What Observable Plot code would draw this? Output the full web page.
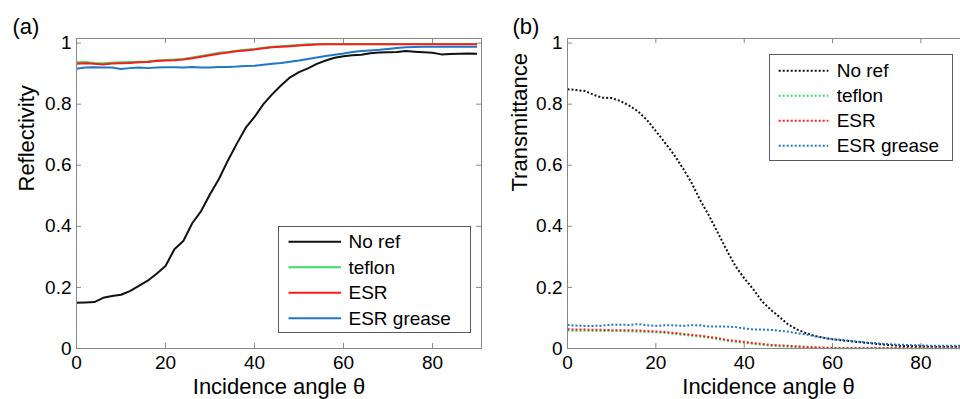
<!DOCTYPE html>
<html><head><meta charset="utf-8">
<script src="https://cdn.jsdelivr.net/npm/d3@7"></script>
<script src="https://cdn.jsdelivr.net/npm/@observablehq/plot@0.6"></script>
<style>
html,body{margin:0;padding:0;background:#fff;}
#wrap{position:relative;width:960px;height:399px;overflow:hidden;font-family:"Liberation Sans",Arial,sans-serif;}
.panel{position:absolute;top:0;}
.legend{position:absolute;background:#fff;border:1px solid #5a5a5a;box-sizing:border-box;}
</style></head><body><div id="wrap"></div>
<script>
// ---- data ----
const angles = [0,2,4,6,8,10,12,14,16,18,20,22,24,26,28,30,32,34,36,38,40,42,44,46,48,50,52,54,56,58,60,62,64,66,68,70,72,74,76,78,80,82,84,86,88,90];
const seriesNames = ["No ref", "teflon", "ESR", "ESR grease"];
const seriesColors = ["#111111", "#33dd66", "#ff1a1a", "#1f77c8"];
const xTicks = [0, 20, 40, 60, 80];
const yTicks = [0, 0.2, 0.4, 0.6, 0.8, 1];

// (a) Reflectivity
const reflNoRef = [0.150,0.151,0.152,0.166,0.172,0.176,0.188,0.205,0.222,0.245,0.270,0.325,0.352,0.410,0.450,0.505,0.555,0.615,0.670,0.722,0.758,0.800,0.833,0.862,0.888,0.905,0.917,0.932,0.943,0.952,0.957,0.960,0.962,0.967,0.969,0.970,0.971,0.974,0.972,0.970,0.968,0.963,0.964,0.965,0.966,0.965];
const reflTeflon = [0.937,0.938,0.935,0.934,0.936,0.937,0.938,0.939,0.940,0.943,0.945,0.946,0.948,0.953,0.958,0.963,0.968,0.971,0.975,0.978,0.981,0.985,0.988,0.990,0.992,0.994,0.996,0.997,0.997,0.997,0.997,0.997,0.997,0.997,0.997,0.997,0.997,0.997,0.997,0.997,0.997,0.997,0.997,0.997,0.997,0.997];
const reflESR = [0.932,0.934,0.932,0.930,0.933,0.934,0.935,0.937,0.938,0.941,0.943,0.944,0.946,0.950,0.955,0.960,0.965,0.969,0.973,0.976,0.979,0.983,0.986,0.988,0.990,0.992,0.994,0.995,0.996,0.996,0.996,0.996,0.996,0.996,0.996,0.996,0.996,0.996,0.996,0.996,0.996,0.996,0.996,0.996,0.996,0.996];
const reflGrease = [0.916,0.920,0.921,0.920,0.920,0.915,0.918,0.920,0.918,0.920,0.921,0.921,0.920,0.922,0.920,0.920,0.922,0.922,0.923,0.925,0.926,0.929,0.932,0.935,0.939,0.943,0.948,0.953,0.958,0.962,0.966,0.971,0.974,0.976,0.978,0.981,0.984,0.986,0.987,0.988,0.988,0.988,0.988,0.988,0.988,0.988];

// (b) Transmittance
const transNoRef = [0.849,0.846,0.843,0.830,0.821,0.820,0.810,0.795,0.776,0.748,0.712,0.675,0.637,0.593,0.545,0.487,0.436,0.380,0.323,0.270,0.230,0.195,0.155,0.127,0.103,0.078,0.062,0.050,0.041,0.035,0.030,0.027,0.024,0.021,0.018,0.015,0.012,0.010,0.008,0.008,0.007,0.006,0.006,0.006,0.006,0.006];
const transTeflon = [0.059,0.058,0.058,0.058,0.057,0.057,0.057,0.056,0.055,0.054,0.053,0.051,0.048,0.045,0.042,0.039,0.035,0.031,0.026,0.022,0.019,0.015,0.012,0.009,0.007,0.006,0.004,0.003,0.002,0.001,0.001,0.001,0.001,0.001,0.001,0.001,0.001,0.001,0.001,0.001,0.001,0.001,0.001,0.001,0.001,0.001];
const transESR = [0.063,0.062,0.062,0.061,0.061,0.060,0.060,0.060,0.059,0.057,0.056,0.054,0.051,0.048,0.045,0.042,0.038,0.034,0.028,0.025,0.022,0.018,0.015,0.012,0.010,0.009,0.007,0.005,0.004,0.003,0.002,0.002,0.002,0.002,0.002,0.002,0.002,0.002,0.002,0.002,0.002,0.002,0.002,0.002,0.002,0.002];
const transGrease = [0.077,0.075,0.074,0.074,0.075,0.078,0.078,0.077,0.080,0.076,0.074,0.076,0.076,0.074,0.076,0.076,0.072,0.072,0.072,0.070,0.066,0.062,0.062,0.061,0.058,0.055,0.050,0.046,0.040,0.035,0.031,0.028,0.025,0.022,0.019,0.017,0.015,0.013,0.012,0.011,0.010,0.009,0.009,0.009,0.009,0.009];

const FONT = '"Liberation Sans", Arial, sans-serif';
const GRAY = "#888";

function panel(o) {
  const W = 490, H = 399, mt = 38, mb = 51;
  const xDom = [0, 91], yDom = [0, 1.015];
  const plotW = W - o.ml - o.mr, plotH = H - mt - mb;
  const tx = 5 * (xDom[1] - xDom[0]) / plotW;
  const ty = 5 * (yDom[1] - yDom[0]) / plotH;
  const rows = [];
  seriesNames.forEach((name, i) => o.values[i].forEach((v, j) => rows.push({name, angle: angles[j], value: v})));
  return Plot.plot({
    width: W, height: H, marginLeft: o.ml, marginRight: o.mr, marginTop: mt, marginBottom: mb,
    style: {fontFamily: FONT, color: "#000", background: "transparent", overflow: "visible"},
    x: {domain: xDom}, y: {domain: yDom},
    color: {domain: seriesNames, range: seriesColors},
    marks: [
      Plot.ruleX(xTicks, {x: d => d, y1: yDom[0], y2: yDom[0] + ty, stroke: GRAY}),
      Plot.ruleX(xTicks, {x: d => d, y1: yDom[1], y2: yDom[1] - ty, stroke: GRAY}),
      Plot.ruleY(yTicks, {y: d => d, x1: xDom[0], x2: xDom[0] + tx, stroke: GRAY}),
      Plot.ruleY(yTicks, {y: d => d, x1: xDom[1], x2: xDom[1] - tx, stroke: GRAY}),
      Plot.line(rows, {x: "angle", y: "value", z: "name", stroke: "name", strokeWidth: 2,
        strokeDasharray: o.dashed ? "2,2" : null, strokeLinecap: "butt", strokeLinejoin: "round"}),
      Plot.frame({stroke: GRAY}),
      Plot.axisX({ticks: xTicks, tickSize: 0, tickPadding: 7, fontSize: 19, label: null, tickFormat: d => String(d)}),
      Plot.axisY({ticks: yTicks, tickSize: 0, tickPadding: 5, fontSize: 19, label: null, tickFormat: d => String(d)}),
      Plot.text([o.xLabel], {frameAnchor: "bottom", lineAnchor: "bottom", dy: 45.5, fontSize: 22, fill: "#000"}),
      Plot.text([o.yLabel], {frameAnchor: "left", rotate: -90, lineAnchor: "bottom", dx: o.ylDx, dy: -2, fontSize: 22, fill: "#000"}),
      Plot.text([o.tag], {frameAnchor: "top-left", textAnchor: "start", lineAnchor: "bottom", dx: o.tagDx, dy: -5, fontSize: 22, fill: "#000"})
    ]
  });
}

function legend(o) {
  const div = document.createElement("div");
  div.className = "legend";
  Object.assign(div.style, {left: o.left + "px", top: o.top + "px", width: o.width + "px", height: o.height + "px"});
  const svg = d3.select(div).append("svg").attr("width", o.width).attr("height", o.height)
    .style("position", "absolute").style("left", "-1px").style("top", "-1px");
  seriesNames.forEach((name, i) => {
    const y = o.row0 + i * o.rowStep;
    svg.append("line").attr("x1", o.x1).attr("x2", o.x2).attr("y1", y).attr("y2", y)
      .attr("stroke", seriesColors[i]).attr("stroke-width", 2)
      .attr("stroke-dasharray", o.dashed ? "2,2" : null);
    svg.append("text").attr("x", o.tx).attr("y", y).attr("dy", "0.35em")
      .attr("font-family", FONT).attr("font-size", 19).attr("fill", "#000").text(name);
  });
  return div;
}

const wrap = document.getElementById("wrap");
const pa = panel({values: [reflNoRef, reflTeflon, reflESR, reflGrease], ml: 76, mr: 9, dashed: false,
  xLabel: "Incidence angle θ", yLabel: "Reflectivity", tag: "(a)", ylDx: -43, tagDx: -64});
pa.classList.add("panel"); pa.style.left = "0px";
wrap.appendChild(pa);
const pb = panel({values: [transNoRef, transTeflon, transESR, transGrease], ml: 77, mr: 11, dashed: true,
  xLabel: "Incidence angle θ", yLabel: "Transmittance", tag: "(b)", ylDx: -41, tagDx: -55});
pb.classList.add("panel"); pb.style.left = "490px";
wrap.appendChild(pb);

wrap.appendChild(legend({left: 278, top: 226, width: 193, height: 107, x1: 10.5, x2: 63, tx: 70.5, row0: 15.7, rowStep: 25.5, dashed: false}));
wrap.appendChild(legend({left: 769, top: 54, width: 184, height: 107, x1: 9.7, x2: 59.3, tx: 67.7, row0: 16.7, rowStep: 25, dashed: true}));
</script>
</body></html>
